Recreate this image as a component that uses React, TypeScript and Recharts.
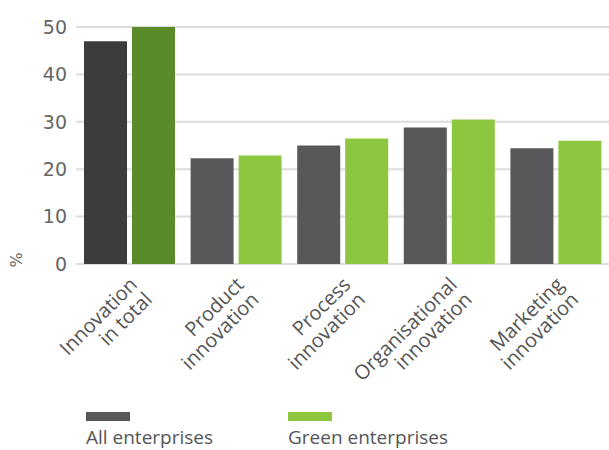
import { BarChart, Bar, XAxis, YAxis, CartesianGrid, Cell } from "recharts";

const categories = [
  "Innovation\nin total",
  "Product\ninnovation",
  "Process\ninnovation",
  "Organisational\ninnovation",
  "Marketing\ninnovation",
];
const allEnterprises = [47, 22.3, 25, 28.8, 24.4];
const greenEnterprises = [50, 22.9, 26.5, 30.5, 26];
const yTicks = [0, 10, 20, 30, 40, 50];

const GREY = "#58585a";
const GREEN = "#8dc63f";
const GREY_TOTAL = "#3c3c3c";
const GREEN_TOTAL = "#5b8b29";

const series = [
  { key: "all", name: "All enterprises", color: GREY, first: GREY_TOTAL },
  { key: "green", name: "Green enterprises", color: GREEN, first: GREEN_TOTAL },
];

const data = categories.map((name, i) => ({
  name,
  all: allEnterprises[i],
  green: greenEnterprises[i],
}));

function CategoryTick(props: any) {
  const { x, y, payload } = props;
  const lines = String(payload.value).split("\n");
  return (
    <g transform={`translate(${x},${y}) rotate(-45)`}>
      {lines.map((line, i) => (
        <text
          key={i}
          x={-9}
          y={22 + i * 21}
          textAnchor="end"
          fill="#555"
          fontSize={20}
          fontFamily="'Open Sans', sans-serif"
        >
          {line}
        </text>
      ))}
    </g>
  );
}

export default function App() {
  return (
    <div style={{ position: "absolute", left: 0, top: 0, width: 609, height: 450, background: "#fff" }}>
      <BarChart
        width={609}
        height={450}
        data={data}
        margin={{ top: 27, right: 0, left: 0, bottom: 185 }}
        barSize={43}
        barGap={5}
      >
        <CartesianGrid vertical={false} stroke="#dcdcdc" strokeWidth={2} />
        <XAxis
          dataKey="name"
          interval={0}
          axisLine={false}
          tickLine={false}
          tickSize={0}
          tickMargin={0}
          height={1}
          tick={<CategoryTick />}
        />
        <YAxis
          width={76}
          domain={[0, 50]}
          ticks={yTicks}
          axisLine={false}
          tickLine={false}
          tickSize={0}
          tickMargin={9}
          tick={{ fontSize: 19, fill: "#666", fontFamily: "'DejaVu Sans', sans-serif" }}
          label={() => (
            <text
              x={22}
              y={260}
              transform="rotate(-90 22 260)"
              textAnchor="middle"
              fill="#666"
              fontSize={16}
              fontFamily="'DejaVu Sans', sans-serif"
            >
              %
            </text>
          )}
        />
        {series.map((s) => (
          <Bar key={s.key} dataKey={s.key} name={s.name} fill={s.color} isAnimationActive={false}>
            {data.map((_, i) => (
              <Cell key={i} fill={i === 0 ? s.first : s.color} />
            ))}
          </Bar>
        ))}
      </BarChart>
      <div
        style={{
          position: "absolute",
          left: 86,
          top: 412,
          display: "flex",
          fontFamily: "'Open Sans', sans-serif",
        }}
      >
        {series.map((s) => (
          <div key={s.key} style={{ width: 202 }}>
            <div style={{ width: 44, height: 9, background: s.color }} />
            <div style={{ fontSize: 19, color: "#555", marginTop: 3, lineHeight: "26px", whiteSpace: "nowrap" }}>
              {s.name}
            </div>
          </div>
        ))}
      </div>
    </div>
  );
}
